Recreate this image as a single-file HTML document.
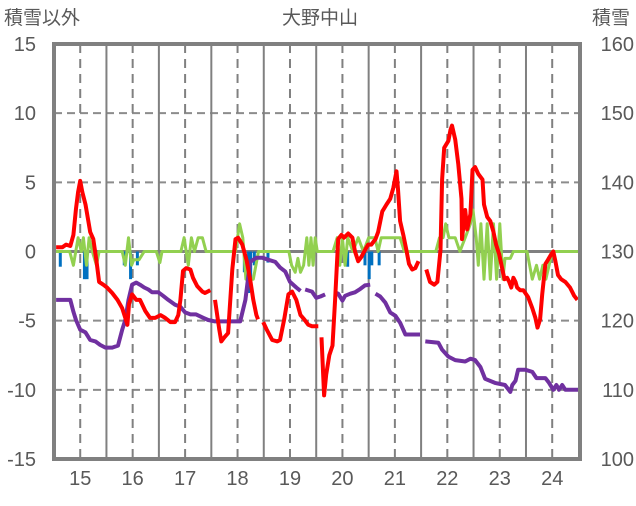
<!DOCTYPE html>
<html><head><meta charset="utf-8"><style>
body{margin:0;background:#fff;}
svg text{font-family:"Liberation Sans","Noto Sans CJK JP",sans-serif;fill:#595959;}
</style></head><body>
<svg id="c" width="636" height="501" xmlns="http://www.w3.org/2000/svg"></svg>
<script>
const leftTicks=[15,10,5,0,-5,-10,-15];
const rightTicks=[160,150,140,130,120,110,100];
const hourLabels=[15,16,17,18,19,20,21,22,23,24];
const redT=[14.54,14.66,14.73,14.81,14.87,14.92,14.96,15.00,15.04,15.10,15.15,15.19,15.25,15.31,15.36,15.44,15.51,15.61,15.71,15.80,15.86,15.90,15.93,15.99,16.07,16.14,16.24,16.33,16.43,16.53,16.62,16.72,16.81,16.87,16.91,16.96,17.02,17.10,17.15,17.23,17.33,17.38,17.48,null,17.57,17.65,17.69,17.75,17.82,17.90,17.96,18.01,18.09,18.17,18.24,18.30,18.36,18.39,null,18.49,18.55,18.66,18.76,18.81,18.89,18.97,19.04,19.12,19.20,19.27,19.35,19.42,19.50,19.54,null,19.60,19.65,19.69,19.75,19.81,19.86,19.92,19.98,20.03,20.11,20.19,20.24,20.30,20.36,20.43,20.49,20.55,20.63,20.68,20.76,20.84,20.91,20.97,21.03,21.06,21.10,21.16,21.22,21.27,21.33,21.39,21.45,null,21.60,21.67,21.75,21.81,21.87,21.90,21.94,22.02,22.06,22.09,22.15,22.21,22.27,22.28,22.34,22.38,22.44,22.48,22.53,22.59,22.67,22.70,22.76,22.82,22.88,22.93,22.99,23.05,23.09,23.14,23.18,23.22,23.26,23.30,23.33,23.39,23.45,23.54,23.62,23.68,23.72,23.77,23.81,23.87,23.92,23.98,24.02,24.06,24.11,24.17,24.25,24.34,24.42,24.48];
const redV=[0.3,0.3,0.5,0.4,1.2,3.1,4.3,5.1,4.3,3.4,2.3,1.4,0.9,-0.7,-2.2,-2.4,-2.6,-3.0,-3.5,-4.1,-4.8,-5.3,-3.8,-3.1,-3.5,-3.5,-4.3,-4.8,-4.8,-4.6,-4.8,-5.1,-5.1,-4.6,-3.5,-1.4,-1.2,-1.3,-1.9,-2.5,-2.9,-3.0,-2.8,null,-3.5,-5.6,-6.5,-6.2,-5.9,-1.3,0.9,1.0,0.5,-0.6,-2.0,-3.5,-4.6,-4.9,null,-5.1,-5.6,-6.4,-6.5,-6.4,-4.9,-3.1,-2.9,-3.5,-4.6,-4.9,-5.3,-5.4,-5.4,-5.4,null,-6.2,-10.4,-8.9,-7.5,-6.8,-3.5,0.9,1.2,1.0,1.3,1.0,0.0,-0.7,-0.4,0.1,0.5,0.5,0.9,1.4,2.9,3.4,3.8,4.6,5.8,4.5,2.2,1.2,0.1,-0.9,-1.3,-1.2,-0.7,null,-1.3,-2.2,-2.4,-2.2,0.1,5.2,7.5,8.0,8.8,9.1,8.1,6.3,3.8,0.9,3.0,1.6,2.7,5.9,6.1,5.6,5.2,3.4,2.5,2.2,1.4,0.5,-0.2,-1.3,-2.0,-1.9,-2.2,-2.6,-1.9,-2.2,-2.6,-2.8,-2.8,-3.3,-4.1,-4.8,-5.5,-4.9,-3.1,-0.9,-0.6,-0.2,0.0,-0.7,-1.7,-2.0,-2.2,-2.6,-3.2,-3.5];
const greenT=[14.54,14.80,14.87,14.96,15.02,15.06,15.12,15.17,15.23,15.31,15.36,15.80,15.86,15.92,15.98,16.02,16.12,16.22,16.45,16.52,16.56,16.92,16.98,17.06,17.12,17.18,17.25,17.33,17.40,17.96,18.00,18.04,18.10,18.16,18.30,18.40,18.98,19.03,19.10,19.15,19.20,19.26,19.32,19.36,19.40,19.44,19.48,19.52,19.82,19.90,19.95,20.00,20.05,20.10,20.20,20.30,20.40,20.50,20.62,20.68,20.74,21.10,21.18,21.78,21.85,21.92,21.97,22.03,22.15,22.24,22.34,22.44,22.49,22.55,22.59,22.64,22.70,22.76,22.82,22.88,22.94,23.00,23.06,23.10,23.20,23.26,23.52,23.62,23.70,23.76,23.82,23.88,23.94,24.00,24.50];
const greenV=[0,0,-1,1,0,1,-1,1,0,-1,0,0,-1,1,-1,-0.6,-0.6,0,0,-0.8,0,0,1,-1,1,0,1,1,0,0,1,2,1,-2,-2,0,0,-1,-1.5,-0.5,-1.5,-1,1,-1,1,-1,1,0,0,1,-1,1,-1,1,0,1,0,1,1,0,1,1,0,0,1,1,2,1,1,0,1,2,3,1,-1,2,-2,2,-2,2,-2,2,-2,-0.5,-0.5,0,0,-2,-1,-2,-1,-2,-1,0,0];
const blueT=[14.62,15.08,15.13,15.84,15.96,16.09,18.13,18.21,18.25,18.32,18.58,20.10,20.43,20.51,20.56,20.70,22.70];
const blueV=[-1.1,-2,-2,-1,-2,-1,-1.5,-3,-2.5,-1,-0.8,-1.1,-1,-2,-1,-1,-1];
const purpleT=[14.54,14.81,14.87,14.92,15.00,15.10,15.19,15.29,15.38,15.48,15.61,15.72,15.80,15.86,15.92,15.99,16.07,16.14,16.22,16.30,16.37,16.49,16.58,16.68,16.81,16.91,17.00,17.10,17.21,17.35,17.44,17.57,18.05,18.15,18.24,18.36,18.47,18.59,18.72,18.81,18.91,19.00,19.12,19.20,null,19.29,19.42,19.50,19.58,19.67,null,19.86,19.92,20.00,20.05,20.15,20.24,20.34,20.43,20.53,null,20.63,20.72,20.82,20.91,21.01,21.10,21.20,21.48,null,21.58,21.83,21.90,22.02,22.15,22.34,22.44,22.53,22.63,22.72,22.91,23.10,23.20,23.24,23.30,23.35,23.49,23.62,23.70,23.87,23.94,24.02,24.08,24.13,24.19,24.25,24.50];
const purpleV=[123.0,123.0,121.3,120.1,118.7,118.3,117.2,117.0,116.5,116.1,116.1,116.4,118.7,120.1,123.0,125.2,125.5,125.2,124.8,124.5,124.1,124.1,123.6,123.0,122.3,122.0,121.2,120.9,120.9,120.4,120.1,119.9,119.9,123.0,128.5,129.1,129.1,128.8,128.5,127.7,127.1,125.6,124.8,124.3,null,124.5,124.2,123.3,123.5,123.8,null,124.1,123.9,122.9,123.6,123.9,124.1,124.6,125.1,125.2,null,123.9,123.5,122.6,121.2,120.7,119.7,118.0,118.0,null,117.0,116.8,115.8,114.8,114.3,114.1,114.5,114.3,113.3,111.6,111.0,110.7,109.7,110.7,111.3,112.9,112.9,112.6,111.7,111.7,111.0,110.0,110.7,110.0,110.7,110.0,110.0];

const svg=document.getElementById('c');
const NS='http://www.w3.org/2000/svg';
const X0=54,X1=580,Y0=44,Y1=459;
const xs=h=>X0+(h-14.5)*(X1-X0)/10.03;
const yl=v=>Y0+(15-v)*(Y1-Y0)/30;
const yr=v=>Y0+(160-v)*(Y1-Y0)/60;
function mk(tag,at,parent){const e=document.createElementNS(NS,tag);for(const k in at)e.setAttribute(k,at[k]);(parent||svg).appendChild(e);return e;}

const grid=mk('g',{});


leftTicks.forEach(v=>{if(v===15||v===-15||v===0)return;
 const l=mk('line',{x1:X0,x2:X1,y1:yl(v),y2:yl(v),stroke:'#8c8c8c','stroke-width':2,'stroke-dasharray':'8,5'},grid);
 
 });
hourLabels.forEach(h=>{
 const d=mk('line',{x1:xs(h),x2:xs(h),y1:Y0,y2:Y1,stroke:'#808080','stroke-width':2,'stroke-dasharray':'9,6'},grid);
 
 
 if(h<24){const s=mk('line',{x1:xs(h+0.5),x2:xs(h+0.5),y1:Y0,y2:Y1,stroke:'#808080','stroke-width':2},grid);
 
 }
});
const zl=mk('line',{x1:X0,x2:X1,y1:yl(0),y2:yl(0),stroke:'#808080','stroke-width':3});



blueT.forEach((t,i)=>{const y=yl(0),y2=yl(blueV[i]);
 const r=mk('rect',{x:xs(t)-1.5,y:y,width:3,height:y2-y,fill:'#0070c0'});
 
 });

function line(T,V,ys,color,w,name){let d='',pen=false;
 T.forEach((t,i)=>{if(t===null||V[i]===null){pen=false;return;}
  d+=(pen?'L':'M')+xs(t).toFixed(1)+','+ys(V[i]).toFixed(1);pen=true;});
 const p=mk('path',{d:d,fill:'none',stroke:color,'stroke-width':w,'stroke-linejoin':'round'});
 
 }
line(greenT,greenV,yl,'#92d050',3,'green-series');
line(purpleT,purpleV,yr,'#7030a0',4,'purple-series');
line(redT,redV,yl,'#ff0000',4,'red-series');

const fr=mk('rect',{x:X0,y:Y0,width:X1-X0,height:Y1-Y0,fill:'none',stroke:'#808080','stroke-width':4});



function txt(s,x,y,anchor,size,name){const t=mk('text',{x:x,y:y,'text-anchor':anchor,'font-size':size});t.textContent=s;
 
 return t;}
leftTicks.forEach(v=>txt(String(v),36,yl(v)+7,'end',20,'left-tick-label'));
rightTicks.forEach(v=>txt(String(v),634,yr(v)+7,'end',20,'right-tick-label'));
hourLabels.forEach(h=>txt(String(h),xs(h),485,'middle',20,'x-tick-label'));
txt('積雪以外',4,24,'start',19,'left-axis-title');
txt('大野中山',320,24,'middle',19,'chart-title');
txt('積雪',592,24,'start',19,'right-axis-title');
</script>
</body></html>
